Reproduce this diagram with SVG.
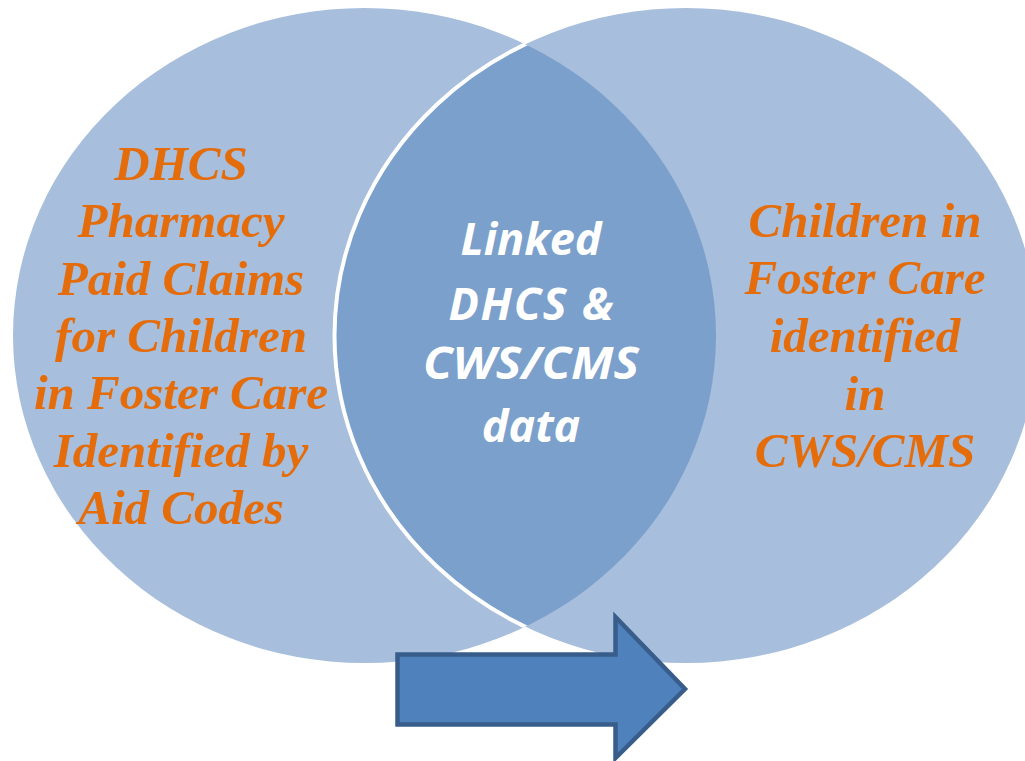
<svg xmlns="http://www.w3.org/2000/svg" width="1025" height="761" viewBox="0 0 1025 761">
<style>
.or{font-family:"Liberation Serif","DejaVu Serif",serif;font-weight:bold;font-style:italic;font-size:49px;fill:#E46C0A;text-anchor:middle}
.wt{font-family:"Open Sans","Liberation Sans",sans-serif;font-weight:bold;font-style:italic;font-size:45px;fill:#FFFFFF;text-anchor:middle}
</style>
<defs>
<clipPath id="clipL"><ellipse cx="364.5" cy="335.5" rx="351.5" ry="327.5"/></clipPath>
</defs>
<rect width="1025" height="761" fill="#FFFFFF"/>
<g id="left-set">
<ellipse cx="364.5" cy="335.5" rx="351.5" ry="327.5" fill="#A7BEDC"/>
</g>
<g id="right-set">
<ellipse cx="686" cy="335.5" rx="351.5" ry="327.5" fill="#A7BEDC"/>
</g>
<g id="overlap">
<ellipse cx="686" cy="335.5" rx="351.5" ry="327.5" fill="#7BA0CB" clip-path="url(#clipL)"/>
<ellipse cx="686" cy="335.5" rx="351.5" ry="327.5" fill="none" stroke="#FFFFFF" stroke-width="4" clip-path="url(#clipL)"/>
</g>
<g id="left-label">
<text class="or" x="181" y="180">DHCS</text>
<text class="or" x="181" y="237">Pharmacy</text>
<text class="or" x="181" y="295">Paid Claims</text>
<text class="or" x="181" y="352">for Children</text>
<text class="or" x="181" y="409">in Foster Care</text>
<text class="or" x="181" y="467">Identified by</text>
<text class="or" x="181" y="524">Aid Codes</text>
</g>
<g id="right-label">
<text class="or" x="865" y="237">Children in</text>
<text class="or" x="865" y="294">Foster Care</text>
<text class="or" x="865" y="352">identified</text>
<text class="or" x="865" y="410">in</text>
<text class="or" x="865" y="467">CWS/CMS</text>
</g>
<g id="center-label">
<text class="wt" x="531" y="255">Linked</text>
<text class="wt" x="531" y="320" textLength="165" lengthAdjust="spacing">DHCS &amp;</text>
<text class="wt" x="531" y="379" textLength="216" lengthAdjust="spacingAndGlyphs">CWS/CMS</text>
<text class="wt" x="531" y="442">data</text>
</g>
<g id="connectors">
<polygon points="397.5,654.5 615.5,654.5 615.5,617 685,689 615.5,758 615.5,724.5 397.5,724.5" fill="#4F81BD" stroke="#385D8A" stroke-width="4.5" stroke-linejoin="miter"/>
</g>
</svg>
